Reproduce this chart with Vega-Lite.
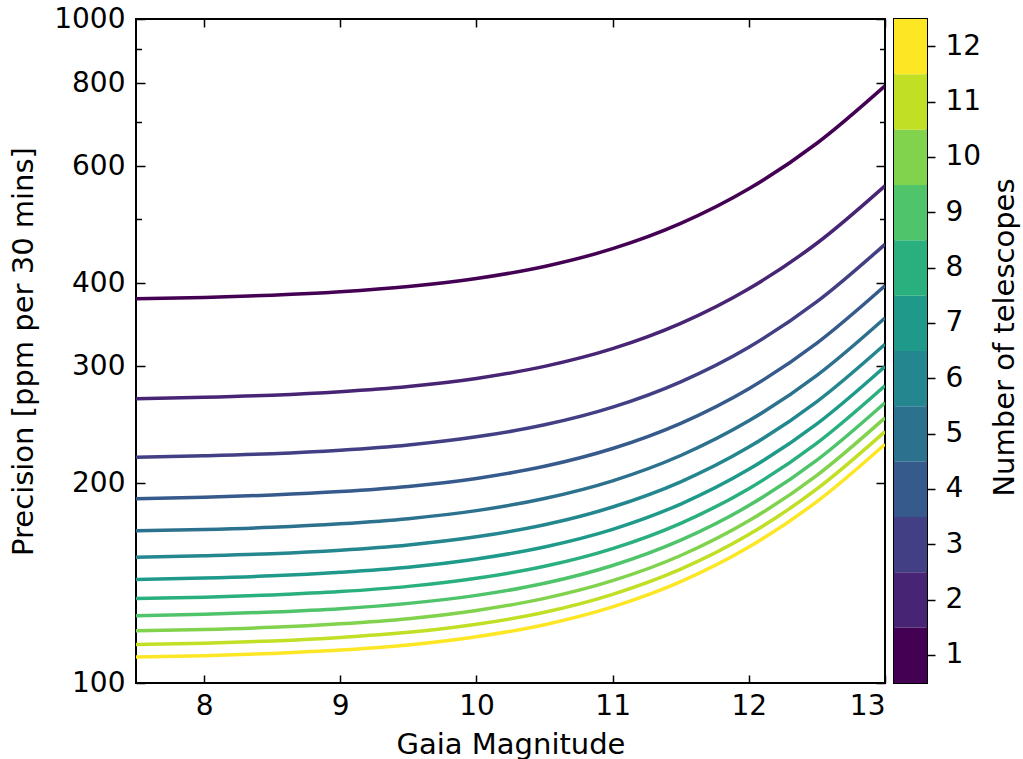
{
"$schema": "https://vega.github.io/schema/vega-lite/v6.json",
"padding": {"left": 8, "top": 4, "right": 5, "bottom": 5},
"background": "white",
"config": {
  "font": "DejaVu Sans",
  "view": {"stroke": "black", "strokeWidth": 2},
  "axis": {"labelFont": "DejaVu Sans", "titleFont": "DejaVu Sans", "labelFontSize": 28, "titleFontSize": 29, "titleFontWeight": "normal", "labelColor": "black", "titleColor": "black", "tickColor": "black", "domain": false, "grid": false, "tickWidth": 1.5}
},
"datasets": {
  "curves": [
    {"n":1,"m":7.5,"p":379.0},{"n":1,"m":8,"p":380.8},{"n":1,"m":8.5,"p":383.7},{"n":1,"m":9,"p":388.3},{"n":1,"m":9.5,"p":395.4},{"n":1,"m":10,"p":406.6},{"n":1,"m":10.5,"p":424.0},{"n":1,"m":11,"p":450.9},{"n":1,"m":11.5,"p":492.2},{"n":1,"m":12,"p":555.0},{"n":1,"m":12.5,"p":649.9},{"n":1,"m":13,"p":793.0},
    {"n":2,"m":7.5,"p":268.0},{"n":2,"m":8,"p":269.3},{"n":2,"m":8.5,"p":271.3},{"n":2,"m":9,"p":274.6},{"n":2,"m":9.5,"p":279.6},{"n":2,"m":10,"p":287.5},{"n":2,"m":10.5,"p":299.8},{"n":2,"m":11,"p":318.8},{"n":2,"m":11.5,"p":348.0},{"n":2,"m":12,"p":392.4},{"n":2,"m":12.5,"p":459.5},{"n":2,"m":13,"p":560.7},
    {"n":3,"m":7.5,"p":218.8},{"n":3,"m":8,"p":219.9},{"n":3,"m":8.5,"p":221.5},{"n":3,"m":9,"p":224.2},{"n":3,"m":9.5,"p":228.3},{"n":3,"m":10,"p":234.8},{"n":3,"m":10.5,"p":244.8},{"n":3,"m":11,"p":260.3},{"n":3,"m":11.5,"p":284.2},{"n":3,"m":12,"p":320.4},{"n":3,"m":12.5,"p":375.2},{"n":3,"m":13,"p":457.8},
    {"n":4,"m":7.5,"p":189.5},{"n":4,"m":8,"p":190.4},{"n":4,"m":8.5,"p":191.9},{"n":4,"m":9,"p":194.2},{"n":4,"m":9.5,"p":197.7},{"n":4,"m":10,"p":203.3},{"n":4,"m":10.5,"p":212.0},{"n":4,"m":11,"p":225.5},{"n":4,"m":11.5,"p":246.1},{"n":4,"m":12,"p":277.5},{"n":4,"m":12.5,"p":325.0},{"n":4,"m":13,"p":396.5},
    {"n":5,"m":7.5,"p":169.5},{"n":5,"m":8,"p":170.3},{"n":5,"m":8.5,"p":171.6},{"n":5,"m":9,"p":173.7},{"n":5,"m":9.5,"p":176.8},{"n":5,"m":10,"p":181.8},{"n":5,"m":10.5,"p":189.6},{"n":5,"m":11,"p":201.6},{"n":5,"m":11.5,"p":220.1},{"n":5,"m":12,"p":248.2},{"n":5,"m":12.5,"p":290.6},{"n":5,"m":13,"p":354.6},
    {"n":6,"m":7.5,"p":154.7},{"n":6,"m":8,"p":155.5},{"n":6,"m":8.5,"p":156.6},{"n":6,"m":9,"p":158.5},{"n":6,"m":9.5,"p":161.4},{"n":6,"m":10,"p":166.0},{"n":6,"m":10.5,"p":173.1},{"n":6,"m":11,"p":184.1},{"n":6,"m":11.5,"p":200.9},{"n":6,"m":12,"p":226.6},{"n":6,"m":12.5,"p":265.3},{"n":6,"m":13,"p":323.7},
    {"n":7,"m":7.5,"p":143.2},{"n":7,"m":8,"p":143.9},{"n":7,"m":8.5,"p":145.0},{"n":7,"m":9,"p":146.8},{"n":7,"m":9.5,"p":149.4},{"n":7,"m":10,"p":153.7},{"n":7,"m":10.5,"p":160.3},{"n":7,"m":11,"p":170.4},{"n":7,"m":11.5,"p":186.0},{"n":7,"m":12,"p":209.8},{"n":7,"m":12.5,"p":245.6},{"n":7,"m":13,"p":299.7},
    {"n":8,"m":7.5,"p":134.0},{"n":8,"m":8,"p":134.6},{"n":8,"m":8.5,"p":135.7},{"n":8,"m":9,"p":137.3},{"n":8,"m":9.5,"p":139.8},{"n":8,"m":10,"p":143.8},{"n":8,"m":10.5,"p":149.9},{"n":8,"m":11,"p":159.4},{"n":8,"m":11.5,"p":174.0},{"n":8,"m":12,"p":196.2},{"n":8,"m":12.5,"p":229.8},{"n":8,"m":13,"p":280.4},
    {"n":9,"m":7.5,"p":126.3},{"n":9,"m":8,"p":126.9},{"n":9,"m":8.5,"p":127.9},{"n":9,"m":9,"p":129.4},{"n":9,"m":9.5,"p":131.8},{"n":9,"m":10,"p":135.5},{"n":9,"m":10.5,"p":141.3},{"n":9,"m":11,"p":150.3},{"n":9,"m":11.5,"p":164.1},{"n":9,"m":12,"p":185.0},{"n":9,"m":12.5,"p":216.6},{"n":9,"m":13,"p":264.3},
    {"n":10,"m":7.5,"p":119.9},{"n":10,"m":8,"p":120.4},{"n":10,"m":8.5,"p":121.3},{"n":10,"m":9,"p":122.8},{"n":10,"m":9.5,"p":125.0},{"n":10,"m":10,"p":128.6},{"n":10,"m":10.5,"p":134.1},{"n":10,"m":11,"p":142.6},{"n":10,"m":11.5,"p":155.6},{"n":10,"m":12,"p":175.5},{"n":10,"m":12.5,"p":205.5},{"n":10,"m":13,"p":250.8},
    {"n":11,"m":7.5,"p":114.3},{"n":11,"m":8,"p":114.8},{"n":11,"m":8.5,"p":115.7},{"n":11,"m":9,"p":117.1},{"n":11,"m":9.5,"p":119.2},{"n":11,"m":10,"p":122.6},{"n":11,"m":10.5,"p":127.8},{"n":11,"m":11,"p":136.0},{"n":11,"m":11.5,"p":148.4},{"n":11,"m":12,"p":167.3},{"n":11,"m":12.5,"p":196.0},{"n":11,"m":13,"p":239.1},
    {"n":12,"m":7.5,"p":109.4},{"n":12,"m":8,"p":109.9},{"n":12,"m":8.5,"p":110.8},{"n":12,"m":9,"p":112.1},{"n":12,"m":9.5,"p":114.1},{"n":12,"m":10,"p":117.4},{"n":12,"m":10.5,"p":122.4},{"n":12,"m":11,"p":130.2},{"n":12,"m":11.5,"p":142.1},{"n":12,"m":12,"p":160.2},{"n":12,"m":12.5,"p":187.6},{"n":12,"m":13,"p":228.9}
  ],
  "bins": [{"n":1},{"n":2},{"n":3},{"n":4},{"n":5},{"n":6},{"n":7},{"n":8},{"n":9},{"n":10},{"n":11},{"n":12}]
},
"spacing": 9,
"bounds": "flush",
"hconcat": [
  {
    "width": 749, "height": 664,
    "data": {"name": "curves"},
    "layer": [
      {
        "mark": {"type": "line", "strokeWidth": 3.5, "interpolate": "monotone", "clip": true},
        "encoding": {
          "x": {"field": "m", "type": "quantitative", "scale": {"domain": [7.5, 13], "nice": false, "zero": false},
                "axis": {"values": [8, 9, 10, 11, 12, 13], "tickSize": -8, "labelPadding": 17, "title": "Gaia Magnitude", "titlePadding": 10}},
          "y": {"field": "p", "type": "quantitative", "scale": {"type": "log", "domain": [100, 1000], "nice": false},
                "axis": {"values": [100, 200, 300, 400, 600, 800, 1000], "format": "d", "tickSize": -9, "labelPadding": 20, "title": "Precision [ppm per 30 mins]", "titlePadding": 15}},
          "color": {"field": "n", "type": "ordinal", "scale": {"domain": [1,2,3,4,5,6,7,8,9,10,11,12], "range": ["#440154", "#482475", "#423f85", "#375a8c", "#2c718e", "#24868e", "#1f9a8a", "#2ab07f", "#50c46a", "#81d34d", "#c0df25", "#fde725"]}, "legend": null}
        }
      },
      {
        "mark": {"type": "point", "opacity": 0},
        "encoding": {
          "x": {"field": "m", "type": "quantitative", "axis": {"orient": "top", "values": [8, 9, 10, 11, 12, 13], "tickSize": -8, "labels": false, "title": null}},
          "y": {"field": "p", "type": "quantitative", "axis": {"orient": "left", "values": [500, 700, 900], "tickSize": -5.5, "labels": false, "title": null}}
        }
      },
      {
        "mark": {"type": "point", "opacity": 0},
        "encoding": {
          "x": {"field": "m", "type": "quantitative", "axis": null},
          "y": {"field": "p", "type": "quantitative", "axis": {"orient": "right", "values": [100, 200, 300, 400, 600, 800, 1000], "tickSize": -9, "labels": false, "title": null}}
        }
      },
      {
        "mark": {"type": "point", "opacity": 0},
        "encoding": {
          "x": {"field": "m", "type": "quantitative", "axis": null},
          "y": {"field": "p", "type": "quantitative", "axis": {"orient": "right", "values": [500, 700, 900], "tickSize": -5.5, "labels": false, "title": null}}
        }
      }
    ],
    "resolve": {"axis": {"x": "independent", "y": "independent"}}
  },
  {
    "width": 33, "height": 664,
    "data": {"name": "bins"},
    "mark": {"type": "rect"},
    "encoding": {
      "y": {"field": "n", "type": "ordinal", "sort": "descending", "scale": {"paddingInner": 0, "paddingOuter": 0},
            "axis": {"orient": "right", "tickSize": 8, "labelPadding": 10, "labelAngle": 0, "title": "Number of telescopes", "titleAngle": -90, "titleBaseline": "top", "titlePadding": 10, "titleY": 318}},
      "color": {"field": "n", "type": "ordinal", "scale": {"domain": [1,2,3,4,5,6,7,8,9,10,11,12], "range": ["#440154", "#482475", "#423f85", "#375a8c", "#2c718e", "#24868e", "#1f9a8a", "#2ab07f", "#50c46a", "#81d34d", "#c0df25", "#fde725"]}, "legend": null}
    }
  }
]
}
